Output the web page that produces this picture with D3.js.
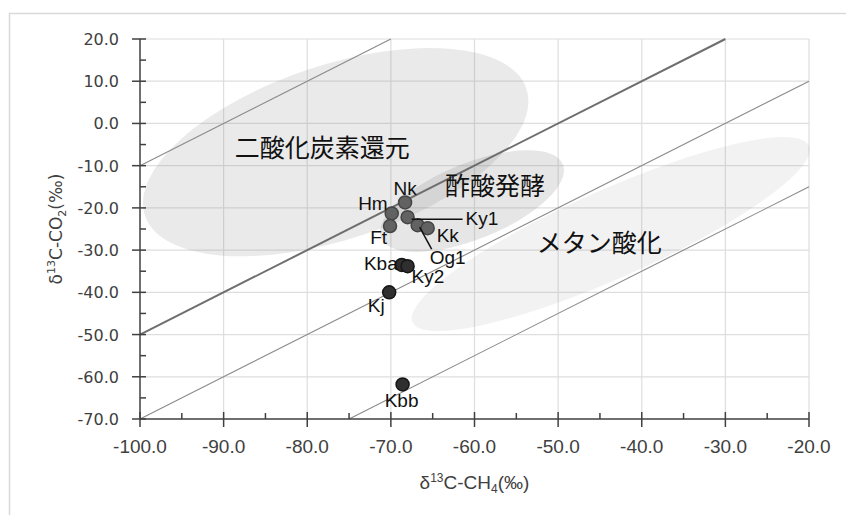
<!DOCTYPE html>
<html><head><meta charset="utf-8">
<script src="https://cdn.jsdelivr.net/npm/d3@7"></script>
<style>
html,body{margin:0;padding:0;background:#fff;}
svg{display:block;}
</style></head>
<body>
<svg id="chart" width="846" height="515"></svg>
<script>
// ---- data ----
const sites   = ["Nk","Hm","Ft","Ky1","Og1","Kk","Kba","Ky2","Kj","Kbb"];
const ch4     = [-68.3,-69.9,-70.1,-68.0,-66.8,-65.6,-68.7,-68.0,-70.2,-68.6];
const co2     = [-18.7,-21.3,-24.3,-22.2,-24.1,-24.8,-33.5,-33.8,-40.0,-61.8];
const group   = ["a","a","a","a","a","a","b","b","b","b"];
const xTicks  = [-100,-90,-80,-70,-60,-50,-40,-30,-20];
const yTicks  = [20,10,0,-10,-20,-30,-40,-50,-60,-70];
const lineOffsets = [90,50,30,5];           // lines  y = x + c
const regionNames = ["二酸化炭素還元","酢酸発酵","メタン酸化"];
const regionCX = [-76.6,-60.3,-43.7];
const regionCY = [-6.8,-18.4,-26.2];

// ---- layout / style ----
const W=846,H=515;
const X0=140,X1=809,Y0=419,Y1=39;
const x=d3.scaleLinear().domain([-100,-20]).range([X0,X1]);
const y=d3.scaleLinear().domain([-70,20]).range([Y0,Y1]);
const svg=d3.select("#chart");

const ellStyle=[
  {rx:201,ry:87,rot:-18.4,fill:"#808080",op:0.17},
  {rx:98,ry:38,rot:-22,fill:"#808080",op:0.2},
  {rx:217,ry:44,rot:-24,fill:"#808080",op:0.1}
];
const labelPos=[ // relative to the region centre (px)
  {dx:-101,dy:5},{dx:-27,dy:-6},{dx:-74,dy:18}
];
const ptLabel={
  Nk:{dx:0,dy:-7,a:"middle"},
  Hm:{dx:-4,dy:-3,a:"end"},
  Ft:{dx:-3,dy:18,a:"end"},
  Ky1:{dx:58,dy:8,a:"start"},
  Og1:{dx:12,dy:39,a:"start"},
  Kk:{dx:9,dy:14,a:"start"},
  Kba:{dx:-4,dy:5,a:"end"},
  Ky2:{dx:4,dy:17,a:"start"},
  Kj:{dx:-13,dy:20,a:"middle"},
  Kbb:{dx:-1,dy:23,a:"middle"}
};

// frame
svg.append("rect").attr("x",9.5).attr("y",13.5).attr("width",900).attr("height",600)
  .attr("fill","none").attr("stroke","#d9d9d9").attr("stroke-width",1.5);

// gridlines
const grid=svg.append("g");
grid.selectAll("line.v").data(xTicks.filter(d=>d>-100)).join("line")
  .attr("x1",d=>x(d)).attr("x2",d=>x(d)).attr("y1",Y0).attr("y2",Y1)
  .attr("stroke","#dedede").attr("stroke-width",1.2);
grid.selectAll("line.h").data(yTicks.filter(d=>d>-70)).join("line")
  .attr("x1",X0).attr("x2",X1).attr("y1",d=>y(d)).attr("y2",d=>y(d))
  .attr("stroke","#dedede").attr("stroke-width",1.2);

// region ellipses
const regions=regionNames.map((n,i)=>({name:n,cx:regionCX[i],cy:regionCY[i],s:ellStyle[i],l:labelPos[i]}));
svg.append("g").selectAll("ellipse").data(regions).join("ellipse")
  .attr("cx",0).attr("cy",0).attr("rx",d=>d.s.rx).attr("ry",d=>d.s.ry)
  .attr("transform",d=>`translate(${x(d.cx)},${y(d.cy)}) rotate(${d.s.rot})`)
  .attr("fill",d=>d.s.fill).attr("fill-opacity",d=>d.s.op);

// diagonal reference lines y = x + c, clipped to the domain
function seg(c){
  let xa=Math.max(-100,-70-c), xb=Math.min(-20,20-c);
  return [[xa,xa+c],[xb,xb+c]];
}
svg.append("g").selectAll("line").data(lineOffsets).join("line")
  .attr("x1",c=>x(seg(c)[0][0])).attr("y1",c=>y(seg(c)[0][1]))
  .attr("x2",c=>x(seg(c)[1][0])).attr("y2",c=>y(seg(c)[1][1]))
  .attr("stroke",c=>c===50?"#6e6e6e":"#8a8a8a")
  .attr("stroke-width",c=>c===50?2:1.1);

// axes
const axCol="#404040";
const ax=svg.append("g");
ax.append("line").attr("x1",X0).attr("x2",X1).attr("y1",Y0).attr("y2",Y0).attr("stroke",axCol).attr("stroke-width",1.5);
ax.append("line").attr("x1",X0).attr("x2",X0).attr("y1",Y0).attr("y2",Y1).attr("stroke",axCol).attr("stroke-width",1.5);
ax.selectAll("line.xt").data(xTicks).join("line")
  .attr("x1",d=>x(d)).attr("x2",d=>x(d)).attr("y1",Y0-7).attr("y2",Y0+8)
  .attr("stroke",axCol).attr("stroke-width",1.5);
ax.selectAll("line.xm").data(xTicks.slice(0,-1).map(d=>d+5)).join("line")
  .attr("x1",d=>x(d)).attr("x2",d=>x(d)).attr("y1",Y0-6).attr("y2",Y0)
  .attr("stroke",axCol).attr("stroke-width",1.5);
ax.selectAll("line.yt").data(yTicks).join("line")
  .attr("x1",X0-8).attr("x2",X0+6).attr("y1",d=>y(d)).attr("y2",d=>y(d))
  .attr("stroke",axCol).attr("stroke-width",1.5);
ax.selectAll("line.ym").data(yTicks.slice(1).map(d=>d+5)).join("line")
  .attr("x1",X0).attr("x2",X0+6).attr("y1",d=>y(d)).attr("y2",d=>y(d))
  .attr("stroke",axCol).attr("stroke-width",1.5);
ax.selectAll("text.xl").data(xTicks).join("text")
  .attr("x",d=>x(d)).attr("y",Y0+34).attr("text-anchor","middle")
  .attr("font-family","Liberation Sans, Arial, sans-serif").attr("font-size",19)
  .attr("fill","#404040").text(d=>d.toFixed(1));
ax.selectAll("text.yl").data(yTicks).join("text")
  .attr("x",119).attr("y",d=>y(d)+6).attr("text-anchor","end")
  .attr("font-family","DejaVu Sans, Verdana, sans-serif").attr("font-size",16)
  .attr("fill","#404040").text(d=>d.toFixed(1));

// axis titles
const xt=svg.append("text").attr("x",(X0+X1)/2).attr("y",489).attr("text-anchor","middle")
  .attr("font-family","Liberation Sans, Arial, sans-serif").attr("font-size",19).attr("fill","#404040");
xt.append("tspan").text("δ");
xt.append("tspan").attr("font-size",12).attr("dy",-7).text("13");
xt.append("tspan").attr("dy",7).text("C-CH");
xt.append("tspan").attr("font-size",12).attr("dy",4).text("4");
xt.append("tspan").attr("dy",-4).text("(‰)");

const yt=svg.append("text").attr("transform",`translate(62,${(Y0+Y1)/2}) rotate(-90)`).attr("text-anchor","middle")
  .attr("font-family","DejaVu Sans, Verdana, sans-serif").attr("font-size",17).attr("fill","#404040");
yt.append("tspan").text("δ");
yt.append("tspan").attr("font-size",11).attr("dy",-7).text("13");
yt.append("tspan").attr("dy",7).text("C-CO");
yt.append("tspan").attr("font-size",11).attr("dy",4).text("2");
yt.append("tspan").attr("dy",-4).text("(‰)");

// region labels
svg.append("g").selectAll("text").data(regions).join("text")
  .attr("x",d=>x(d.cx)+d.l.dx).attr("y",d=>y(d.cy)+d.l.dy)
  .attr("font-family","Noto Sans CJK JP, sans-serif").attr("font-size",25)
  .attr("fill","#111").text(d=>d.name);

// points
const pts=sites.map((s,i)=>({s,x:ch4[i],y:co2[i],g:group[i]}));
const leaders=[
  {from:"Ky1",x2dx:55,y2dy:2,start:[4,2]},
  {from:"Og1",x2dx:14,y2dy:24,start:[2,2]}
];
svg.append("g").selectAll("circle").data(pts).join("circle")
  .attr("cx",d=>x(d.x)).attr("cy",d=>y(d.y)).attr("r",6.5)
  .attr("fill",d=>d.g==="a"?"#626262":"#2f2f2f")
  .attr("stroke",d=>d.g==="a"?"#444":"#151515").attr("stroke-width",1.5);
svg.append("g").selectAll("line").data(leaders).join("line")
  .attr("x1",d=>{const p=pts.find(q=>q.s===d.from);return x(p.x)+d.start[0];})
  .attr("y1",d=>{const p=pts.find(q=>q.s===d.from);return y(p.y)+d.start[1];})
  .attr("x2",d=>{const p=pts.find(q=>q.s===d.from);return x(p.x)+d.x2dx;})
  .attr("y2",d=>{const p=pts.find(q=>q.s===d.from);return y(p.y)+d.y2dy;})
  .attr("stroke","#111").attr("stroke-width",1.5);
svg.append("g").selectAll("text").data(pts).join("text")
  .attr("x",d=>x(d.x)+ptLabel[d.s].dx).attr("y",d=>y(d.y)+ptLabel[d.s].dy)
  .attr("text-anchor",d=>ptLabel[d.s].a)
  .attr("font-family","Liberation Sans, Arial, sans-serif").attr("font-size",19)
  .attr("fill","#111").text(d=>d.s);
</script>
</body></html>
